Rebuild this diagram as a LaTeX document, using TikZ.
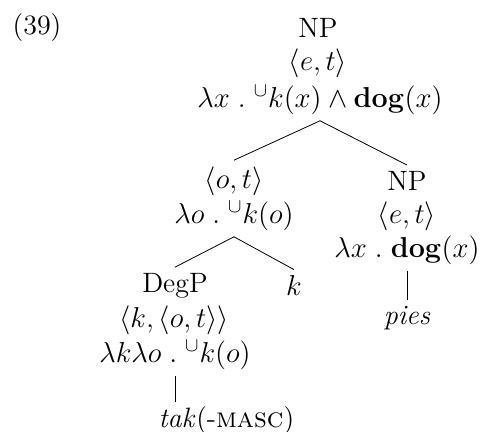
\documentclass[tikz,border=0pt]{standalone}
\usepackage{amsmath,amssymb}
\begin{document}
\begin{tikzpicture}[x=0.5pt,y=-0.5pt,
  every node/.style={font=\fontsize{14}{17}\selectfont, inner xsep=0pt, inner ysep=3pt},
  edge/.style={draw=black, line width=0.4pt}]
\useasboundingbox (0,0) rectangle (481,432);
\node (ex) at (37,28) {(39)};
\node (np1) at (318,28) {NP};
\node (t1) at (318,63) {$\langle e,t\rangle$};
\node (l1) at (320,100) {$\lambda x\mathrel{.}{}^{\cup}k(x)\wedge\mathbf{dog}(x)$};
\node (t2) at (234,181) {$\langle o,t\rangle$};
\node (l2) at (234,216) {$\lambda o\mathrel{.}{}^{\cup}k(o)$};
\node (np3) at (407,181) {NP};
\node (t3) at (407,216) {$\langle e,t\rangle$};
\node (l3) at (407,250) {$\lambda x\mathrel{.}\mathbf{dog}(x)$};
\node (pies) at (407,318) {\textit{pies}};
\node (degp) at (175,286) {DegP};
\node (k) at (294,286) {$k$};
\node (t4) at (174,320) {$\langle k,\langle o,t\rangle\rangle$};
\node (l4) at (175,355) {$\lambda k\lambda o\mathrel{.}{}^{\cup}k(o)$};
\node (tak) at (177,418) {\textit{tak}};
\node[anchor=base west] (masc) at (tak.base east) {(-\textsc{masc})};
\draw[edge] (l1.south) -- (t2.north);
\draw[edge] (l1.south) -- (np3.north);
\draw[edge] (l2.south) -- (degp.north);
\draw[edge] (l2.south) -- (k.north);
\draw[edge] (l3.south) -- (pies.north);
\draw[edge] (l4.south) -- (l4.south |- tak.north);
\end{tikzpicture}
\end{document}
